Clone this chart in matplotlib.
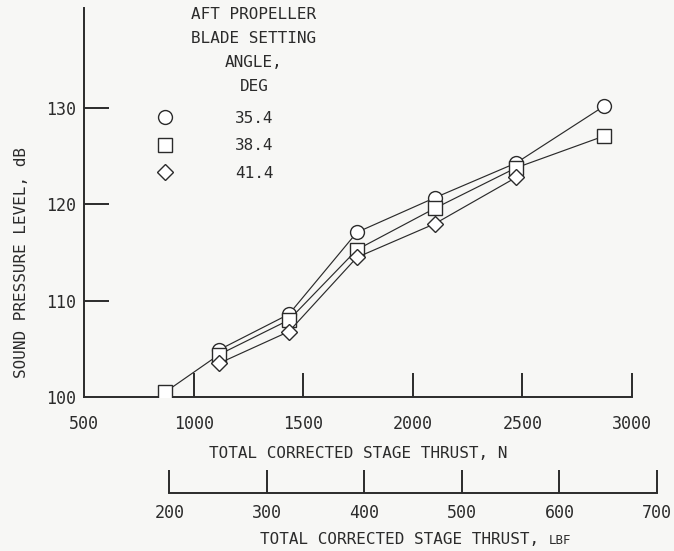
import matplotlib
matplotlib.use("Agg")
import matplotlib.pyplot as plt
from matplotlib.lines import Line2D

# sound pressure level vs. total corrected stage thrust, per aft blade angle
angles = ["35.4", "38.4", "41.4"]
thrust_35 = [1116, 1435, 1745, 2101, 2471, 2872]
spl_35 = [104.9, 108.6, 117.1, 120.7, 124.3, 130.2]
thrust_38 = [870, 1116, 1435, 1745, 2101, 2471, 2872]
spl_38 = [100.5, 104.4, 108.0, 115.3, 119.6, 123.8, 127.1]
thrust_41 = [1116, 1435, 1745, 2101, 2471]
spl_41 = [103.5, 106.8, 114.5, 118.0, 122.8]

n_ticks = [500, 1000, 1500, 2000, 2500, 3000]
lbf_ticks = [200, 300, 400, 500, 600, 700]
spl_ticks = [100, 110, 120, 130]
N_PER_LBF = 4.44822

BG = "#f7f7f5"
INK = "#2b2b2b"
FONT = "DejaVu Sans Mono"
plt.rcParams["font.family"] = FONT

W, H = 674, 551
fig = plt.figure(figsize=(W / 100, H / 100), dpi=100, facecolor=BG)


def px(x0, y0, x1, y1):
    return [x0 / W, 1 - y1 / H, (x1 - x0) / W, (y1 - y0) / H]


AX_L, AX_R, AX_T, AX_B = 84, 632, 8, 397
ax = fig.add_axes(px(AX_L, AX_T, AX_R, AX_B))
ax.set_facecolor(BG)
ax.set_xlim(500, 3000)
ax.set_ylim(100, 140.4)

line_kw = dict(color=INK, lw=0.85, mfc="white", mec=INK, mew=1.0)
ax.plot(thrust_35, spl_35, marker="o", ms=10, zorder=3, **line_kw)
ax.plot(thrust_38, spl_38, marker="s", ms=10, zorder=4, **line_kw)
ax.plot(thrust_41, spl_41, marker="D", ms=8, zorder=5, **line_kw)

for s in ["top", "right"]:
    ax.spines[s].set_visible(False)
for s in ["left", "bottom"]:
    ax.spines[s].set_linewidth(1.4)
    ax.spines[s].set_color(INK)

ax.set_xticks(n_ticks)
ax.set_yticks(spl_ticks)
ax.tick_params(axis="x", direction="in", length=17, width=1.4, pad=13,
               labelsize=12, colors=INK)
ax.tick_params(axis="y", direction="in", length=18, width=1.4, pad=5.5,
               labelsize=12, colors=INK)
ax.xaxis.get_major_ticks()[0].tick1line.set_visible(False)
ax.yaxis.get_major_ticks()[0].tick1line.set_visible(False)


# secondary thrust scale in lbf, lined up with the newton scale
def n_to_px(n):
    return AX_L + (n - 500) / 2500 * (AX_R - AX_L)


ax2 = fig.add_axes(px(n_to_px(lbf_ticks[0] * N_PER_LBF), 470,
                      n_to_px(lbf_ticks[-1] * N_PER_LBF), 493))
ax2.patch.set_visible(False)
ax2.set_xlim(lbf_ticks[0], lbf_ticks[-1])
ax2.set_ylim(0, 1)
for s in ["top", "right", "left"]:
    ax2.spines[s].set_visible(False)
ax2.spines["bottom"].set_linewidth(1.4)
ax2.spines["bottom"].set_color(INK)
ax2.set_yticks([])
ax2.set_xticks(lbf_ticks)
ax2.tick_params(axis="x", direction="in", length=16.5, width=1.4, pad=8,
                labelsize=12, colors=INK)

fig.text(358 / W, 1 - 453 / H, "TOTAL CORRECTED STAGE THRUST, N",
         ha="center", va="center", fontsize=11.5, color=INK)
t = fig.text(404 / W, 1 - 539 / H, "TOTAL CORRECTED STAGE THRUST, ",
             ha="center", va="center", fontsize=11.5, color=INK)
ax2.annotate("LBF", xy=(1, 0), xycoords=t, va="bottom", ha="left",
             fontsize=9, color=INK, annotation_clip=False)
fig.text(22 / W, 1 - 263 / H, "SOUND PRESSURE LEVEL, dB", rotation=90,
         ha="center", va="center", fontsize=11.5, color=INK)

# legend block
fig.text(254 / W, 1 - 7 / H, "AFT PROPELLER\nBLADE SETTING\nANGLE,\nDEG",
         ha="center", va="top", ma="center", fontsize=11.5, color=INK,
         linespacing=1.75)
handles = [
    Line2D([], [], ls="none", marker="o", ms=10, mfc="white", mec=INK, mew=1.0),
    Line2D([], [], ls="none", marker="s", ms=10, mfc="white", mec=INK, mew=1.0),
    Line2D([], [], ls="none", marker="D", ms=8, mfc="white", mec=INK, mew=1.0),
]
leg = ax.legend(handles, angles, loc="upper left",
                bbox_to_anchor=(157 / W, 1 - 111 / H),
                bbox_transform=fig.transFigure, frameon=False,
                borderaxespad=0, borderpad=0, handlelength=1.0,
                handletextpad=3.9, labelspacing=0.78, fontsize=11.5)
for txt in leg.get_texts():
    txt.set_color(INK)

fig.savefig("out.png", dpi=100, facecolor=BG)
